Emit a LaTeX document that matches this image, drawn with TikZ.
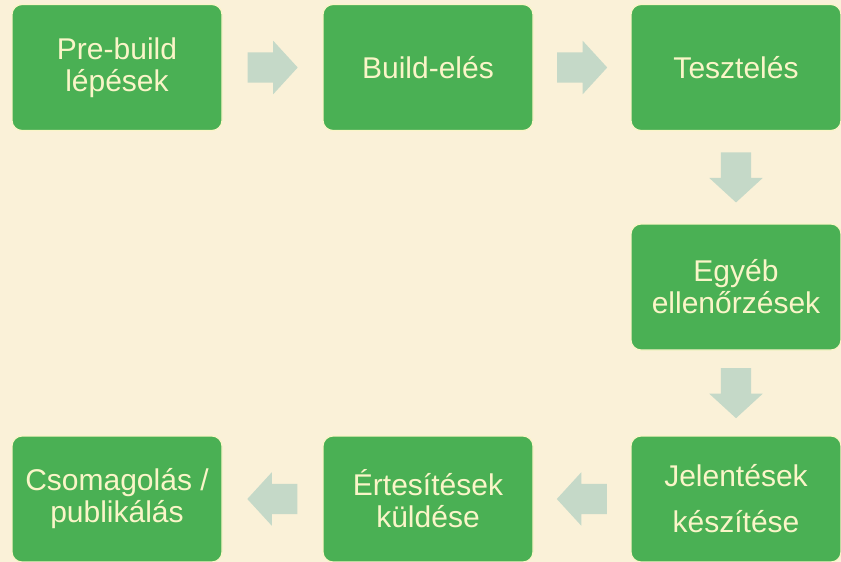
\documentclass[tikz,border=0pt]{standalone}
\usepackage{fontspec}
\setmainfont{Liberation Sans}
\usetikzlibrary{shapes.arrows,calc}

\definecolor{bgcream}{RGB}{250,241,216}
\definecolor{stagegreen}{RGB}{74,176,84}
\definecolor{labelcream}{RGB}{250,245,200}
\definecolor{arrowgrey}{RGB}{197,217,200}

\tikzset{
  stage/.style={draw=labelcream, line width=1.2pt, fill=stagegreen, rounded corners=10pt,
    minimum width=210pt, minimum height=126pt, inner sep=0pt,
    text=labelcream, align=center, font=\fontsize{30}{32}\selectfont},
  flowarrow/.style={single arrow, fill=arrowgrey, draw=none, inner xsep=0pt, inner ysep=15pt,
    minimum width=53pt, minimum height=50pt, anchor=tail,
    single arrow head extend=11.5pt, single arrow tip angle=95}
}

\begin{document}
\begin{tikzpicture}[x=1pt,y=-1pt]   %% pixel grid
        \useasboundingbox[fill=bgcream] (0,0) rectangle (841,562);
        % top row
        \node[stage] (prebuild) at (117,67.5) {Pre-build\\lépések};
        \node[stage] (build) at (428,67.5) {Build-elés};
        \node[stage] (test) at (736,67.5) {Tesztelés};
        % right column
        \node[stage] (checks) at (736,287) {Egyéb\\ellenőrzések};
        % bottom row
        \node[stage] (report) at (736,499) {Jelentések\\[14pt]készítése};
        \node[stage] (notify) at (428,499) {Értesítések\\küldése};
        \node[stage] (publish) at (117,499) {Csomagolás /\\publikálás};
        % block arrows between the stages (tail set back half a length)
        \node[flowarrow] (arr1) at ($(prebuild.east)!0.5!(build.west)+(-25,0)$) {};
        \node[flowarrow] (arr2) at ($(build.east)!0.5!(test.west)+(-25,0)$) {};
        \node[flowarrow, rotate=270] (arr3) at ($(test.south)!0.5!(checks.north)+(0,-25)$) {};
        \node[flowarrow, rotate=270] (arr4) at ($(checks.south)!0.5!(report.north)+(0,-25)$) {};
        \node[flowarrow, rotate=180] (arr5) at ($(report.west)!0.5!(notify.east)+(25,0)$) {};
        \node[flowarrow, rotate=180] (arr6) at ($(notify.west)!0.5!(publish.east)+(25,0)$) {};
    \end{tikzpicture}
\end{document}
